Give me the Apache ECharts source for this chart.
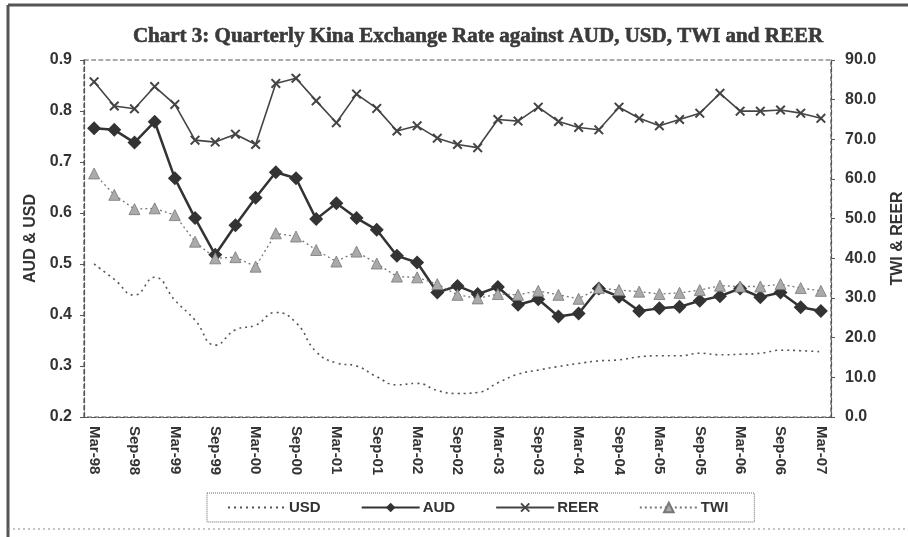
<!DOCTYPE html>
<html>
<head>
<meta charset="utf-8">
<script src="https://cdn.jsdelivr.net/npm/echarts@6/dist/echarts.min.js"></script>
<style>
html,body{margin:0;padding:0;background:#fff;}
#chart{width:908px;height:537px;}
</style>
</head>
<body>
<div id="chart"></div>
<script>
const categories = ['Mar-98','Jun-98','Sep-98','Dec-98','Mar-99','Jun-99','Sep-99','Dec-99','Mar-00','Jun-00','Sep-00','Dec-00',
  'Mar-01','Jun-01','Sep-01','Dec-01','Mar-02','Jun-02','Sep-02','Dec-02','Mar-03','Jun-03','Sep-03','Dec-03',
  'Mar-04','Jun-04','Sep-04','Dec-04','Mar-05','Jun-05','Sep-05','Dec-05','Mar-06','Jun-06','Sep-06','Dec-06','Mar-07'];

const usd = [0.500,0.470,0.439,0.474,0.429,0.390,0.341,0.371,0.380,0.405,0.385,0.328,
  0.306,0.300,0.279,0.263,0.266,0.252,0.246,0.248,0.267,0.284,0.292,0.299,
  0.305,0.310,0.312,0.318,0.320,0.320,0.325,0.322,0.323,0.325,0.331,0.330,0.328];

const aud = [0.766,0.763,0.738,0.779,0.668,0.590,0.518,0.576,0.630,0.680,0.668,0.588,
  0.619,0.590,0.567,0.516,0.503,0.444,0.457,0.441,0.455,0.420,0.431,0.397,
  0.403,0.452,0.436,0.408,0.413,0.416,0.428,0.437,0.452,0.435,0.444,0.415,0.408];

const reer = [84.5,78.4,77.7,83.3,78.8,69.8,69.3,71.3,68.7,84.1,85.4,79.7,
  74.2,81.4,77.8,72.1,73.4,70.3,68.7,67.9,75.0,74.6,78.1,74.5,
  73.0,72.4,78.1,75.3,73.4,75.0,76.6,81.6,77.1,77.1,77.4,76.6,75.3];

const twi = [61.4,56.0,52.4,52.6,50.9,44.2,40.0,40.3,37.9,46.3,45.5,42.1,
  39.2,41.7,38.7,35.4,35.2,33.5,30.8,29.9,31.0,30.8,31.8,30.8,
  29.8,32.5,32.0,31.6,31.0,31.3,32.0,33.1,32.9,32.9,33.5,32.5,31.8];

const leftTicks = {min:0.2, max:0.9, interval:0.1};
const rightTicks = {min:0, max:90, interval:10};

const xSymbol = 'path://M0,1.4L1.4,0L5,3.6L8.6,0L10,1.4L6.4,5L10,8.6L8.6,10L5,6.4L1.4,10L0,8.6L3.6,5Z';
const FONT = 'Liberation Sans, Arial, sans-serif';

const chart = echarts.init(document.getElementById('chart'), null, {renderer:'canvas'});
chart.setOption({
  backgroundColor:'#fff',
  animation:false,
  title:{
    text:'Chart 3: Quarterly Kina Exchange Rate against AUD, USD, TWI and REER',
    left:473, top:21, textAlign:'center',
    textStyle:{fontFamily:'Liberation Serif, Times New Roman, serif', fontWeight:'bold', fontSize:21, color:'#3a3a3a',
      textBorderColor:'#3a3a3a', textBorderWidth:0.6}
  },
  graphic:[
    {type:'line', shape:{x1:8,y1:5,x2:8,y2:537}, style:{stroke:'#555', lineWidth:3}},
    {type:'line', shape:{x1:8,y1:5,x2:908,y2:5}, style:{stroke:'#555', lineWidth:3}},
    {type:'line', shape:{x1:8,y1:529,x2:908,y2:529}, style:{stroke:'#888', lineWidth:1, lineDash:[2,3]}}
  ],
  grid:{left:84, right:77, top:60, bottom:120, show:true, borderColor:'#555', borderWidth:1.2, borderType:'dashed',
        containLabel:false, outerBoundsMode:'none'},
  legend:{
    left:207, top:493,
    padding:[7,26,7,20],
    itemWidth:58, itemHeight:12, itemGap:40,
    borderColor:'#666', borderWidth:1, borderType:'dotted',
    textStyle:{fontFamily:FONT, fontSize:15, fontWeight:'bold', color:'#333', padding:[0,0,0,-2]},
    data:[{name:'USD', itemStyle:{opacity:0}},'AUD','REER','TWI']
  },
  xAxis:{
    type:'category', data:categories, boundaryGap:true,
    axisLine:{lineStyle:{color:'#555', width:1.2, type:'dashed'}},
    axisTick:{interval:1, length:4, lineStyle:{color:'#555'}},
    axisLabel:{interval:1, rotate:-90, margin:9, fontFamily:FONT, fontWeight:'bold', fontSize:15, color:'#333'}
  },
  yAxis:[
    {type:'value', min:leftTicks.min, max:leftTicks.max, interval:leftTicks.interval,
     name:'AUD & USD', nameLocation:'middle', nameGap:44, nameRotate:90,
     nameTextStyle:{fontFamily:FONT, fontWeight:'bold', fontSize:16, color:'#333'},
     axisLine:{show:true, lineStyle:{color:'#555', width:1.2, type:'dashed'}},
     axisTick:{show:true, length:4, lineStyle:{color:'#555'}},
     splitLine:{show:false},
     axisLabel:{margin:12, fontFamily:FONT, fontWeight:'bold', fontSize:16, color:'#333', formatter:v=>v.toFixed(1)}
    },
    {type:'value', min:rightTicks.min, max:rightTicks.max, interval:rightTicks.interval, position:'right',
     name:'TWI & REER', nameLocation:'middle', nameGap:59, nameRotate:90,
     nameTextStyle:{fontFamily:FONT, fontWeight:'bold', fontSize:16, color:'#333'},
     axisLine:{show:true, lineStyle:{color:'#555', width:1.2, type:'dashed'}},
     axisTick:{show:true, length:4, lineStyle:{color:'#555'}},
     splitLine:{show:false},
     axisLabel:{margin:14, fontFamily:FONT, fontWeight:'bold', fontSize:16, color:'#333', formatter:v=>v.toFixed(1)}
    }
  ],
  series:[
    {name:'USD', type:'line', yAxisIndex:0, data:usd, smooth:true, symbol:'none',
     lineStyle:{color:'#555', width:1.6, type:[2,4]}, itemStyle:{color:'#555'}},
    {name:'AUD', type:'line', yAxisIndex:0, data:aud, symbol:'diamond', symbolSize:14, showAllSymbol:true,
     lineStyle:{color:'#333', width:2.5}, itemStyle:{color:'#333'}},
    {name:'REER', type:'line', yAxisIndex:1, data:reer, symbol:xSymbol, symbolSize:10, showAllSymbol:true,
     lineStyle:{color:'#444', width:1.6}, itemStyle:{color:'#444'}},
    {name:'TWI', type:'line', yAxisIndex:1, data:twi, symbol:'triangle', symbolSize:11, showAllSymbol:true,
     lineStyle:{color:'#777', width:1.3, type:[2,3]}, itemStyle:{color:'#aaa', borderColor:'#777', borderWidth:0.8}}
  ]
});
</script>
</body>
</html>
